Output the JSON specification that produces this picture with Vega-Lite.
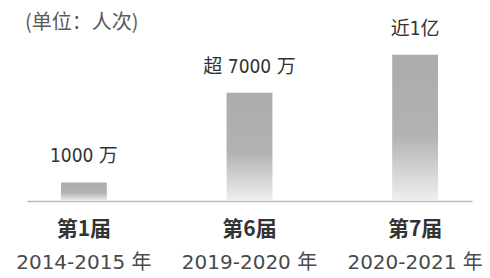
{
  "$schema": "https://vega.github.io/schema/vega-lite/v6.json",
  "autosize": "none",
  "width": 445,
  "height": 161,
  "padding": {"top": 40, "left": 27, "right": 18, "bottom": 77},
  "background": "white",
  "view": {"stroke": null},
  "title": {
    "text": "(单位：人次)",
    "anchor": "start",
    "frame": "group",
    "orient": "top",
    "offset": -13,
    "dx": -2,
    "font": "Noto Sans CJK SC",
    "fontSize": 20,
    "fontWeight": "normal",
    "color": "#5a5a5a"
  },
  "data": {
    "values": [
      {"edition": "第1届", "years": "2014-2015 年", "value": 1270, "label": "1000 万"},
      {"edition": "第6届", "years": "2019-2020 年", "value": 7400, "label": "超 7000 万"},
      {"edition": "第7届", "years": "2020-2021 年", "value": 10000, "label": "近1亿"}
    ]
  },
  "encoding": {
    "x": {
      "field": "edition",
      "type": "nominal",
      "sort": null,
      "scale": {"paddingInner": 0.723, "paddingOuter": 0.205},
      "axis": {
        "title": null,
        "labelAngle": 0,
        "ticks": false,
        "domainColor": "#bdbdbd",
        "domainWidth": 1.5,
        "labelPadding": 17,
        "labelFont": "Noto Sans CJK SC",
        "labelFontSize": 21,
        "labelFontWeight": "bold",
        "labelColor": "#333333"
      }
    }
  },
  "layer": [
    {
      "mark": {
        "type": "bar",
        "color": {
          "gradient": "linear",
          "x1": 0, "y1": 0, "x2": 0, "y2": 1,
          "stops": [
            {"offset": 0, "color": "#acacac"},
            {"offset": 0.55, "color": "#b2b2b2"},
            {"offset": 1, "color": "#efefef"}
          ]
        }
      },
      "encoding": {
        "y": {
          "field": "value",
          "type": "quantitative",
          "scale": {"domain": [0, 10750]},
          "axis": null
        }
      }
    },
    {
      "mark": {
        "type": "text",
        "baseline": "bottom",
        "dy": -16,
        "font": "DejaVu Sans Condensed, Noto Sans CJK SC",
        "fontSize": 19,
        "color": "#333333"
      },
      "encoding": {
        "y": {"field": "value", "type": "quantitative"},
        "text": {"field": "label"}
      }
    },
    {
      "mark": {
        "type": "text",
        "baseline": "middle",
        "dy": 62,
        "font": "DejaVu Sans, Noto Sans CJK SC",
        "fontSize": 20,
        "color": "#4a4a4a"
      },
      "encoding": {
        "y": {"datum": 0},
        "text": {"field": "years"}
      }
    }
  ]
}
